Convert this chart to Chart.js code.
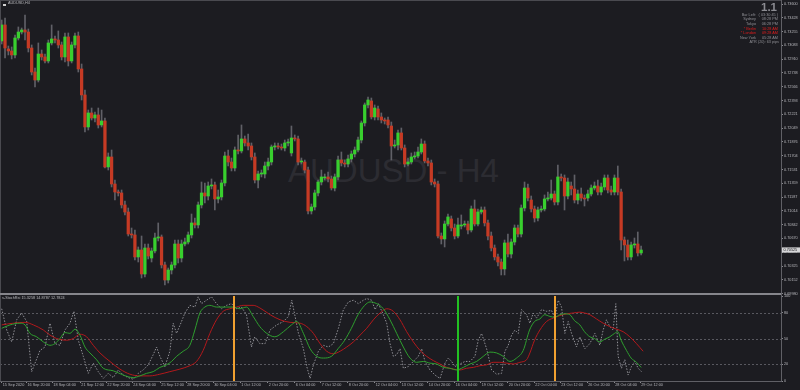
<!DOCTYPE html>
<html><head><meta charset="utf-8"><title>AUDUSD,H4</title>
<script src="https://cdn.jsdelivr.net/npm/chart.js@4.4.1/dist/chart.umd.min.js"></script>
<style>
html,body{margin:0;padding:0;background:#1c1c21;}
#wrap{position:relative;width:800px;height:390px;overflow:hidden;background:#1c1c21;}
canvas{position:absolute;left:0;display:block;}
.t{position:absolute;font-family:'Liberation Sans',Arial,sans-serif;white-space:nowrap;line-height:1;}
.s{font-size:3.8px;}
.lab{right:44px;color:#8e8e94;}
.val{right:22px;color:#8e8e94;}
.red{color:#e21d1d;}
.ln{position:absolute;}
</style></head>
<body><div id="wrap">
<div class="t" style="left:288px;top:154px;font-size:33px;color:#2c2c32;">AUDUSD - H4</div>
<canvas id="main" width="800" height="297" style="top:0;width:800px;height:297px"></canvas>
<canvas id="ind" width="800" height="96" style="top:294px;width:800px;height:96px"></canvas>
<div class="ln" style="left:0;top:0;width:781px;height:1px;background:#4a4a50"></div>
<div class="ln" style="left:0;top:0;width:1px;height:381px;background:#4a4a50"></div>
<div class="ln" style="left:0;top:293px;width:781px;height:2px;background:#86868c"></div>
<div class="ln" style="left:3px;top:3.5px;width:3px;height:2px;background:#d0d0d0"></div>
<div class="t s" style="left:8px;top:2.4px;color:#b8b8bc">AUDUSD,H4</div>
<div class="t" style="right:23px;top:1.8px;font-size:11.5px;font-weight:bold;color:#8c8c92">1.1</div>
<div class="t s lab" style="top:13.8px">Bar Left:</div><div class="t s val" style="top:13.8px">( 03:30:45 )</div>
<div class="t s lab" style="top:18.4px">Sydney</div><div class="t s val" style="top:18.4px">08:28 PM</div>
<div class="t s lab" style="top:23.1px">Tokyo</div><div class="t s val" style="top:23.1px">06:28 PM</div>
<div class="t s lab red" style="top:27.8px">* Berlin</div><div class="t s val red" style="top:27.8px">10:28 AM</div>
<div class="t s lab red" style="top:32.4px">* London</div><div class="t s val red" style="top:32.4px">09:28 AM</div>
<div class="t s lab" style="top:37.1px">New York</div><div class="t s val" style="top:37.1px">05:28 AM</div>
<div class="t s val" style="top:41.4px;right:21px">ATR (20): 63 pips</div>
<div class="t s" style="left:2px;top:297.2px;color:#b8b8bc">s-StochRsi 15.3258 14.8787 12.7824</div>
</div>
<script>
// ---------- price data (AUDUSD H4) ----------
const openP = [0.73138,0.73338,0.73038,0.73013,0.72963,0.73175,0.73250,0.73275,0.73250,0.73050,
0.72750,0.72650,0.72975,0.72938,0.72888,0.73113,0.73163,0.73150,0.73088,0.72938,
0.73188,0.72888,0.73088,0.73200,0.72788,0.72463,0.72063,0.72238,0.72175,0.72213,
0.72088,0.72138,0.71563,0.71688,0.71350,0.71250,0.71238,0.71088,0.71000,0.70725,
0.70713,0.70438,0.70525,0.70225,0.70550,0.70425,0.70513,0.70675,0.70688,0.70338,
0.70150,0.70275,0.70338,0.70600,0.70425,0.70600,0.70625,0.70713,0.70863,0.70838,
0.71088,0.71238,0.71200,0.71325,0.71338,0.71163,0.71188,0.71363,0.71700,0.71625,
0.71550,0.71775,0.71763,0.71913,0.71863,0.71825,0.71688,0.71400,0.71475,0.71475,
0.71575,0.71625,0.71813,0.71825,0.71813,0.71800,0.71863,0.71738,0.71925,0.71913,
0.71625,0.71625,0.71525,0.71013,0.71063,0.71238,0.71375,0.71425,0.71438,0.71413,
0.71300,0.71438,0.71650,0.71613,0.71600,0.71663,0.71725,0.71775,0.71900,0.72113,
0.72338,0.72388,0.72188,0.72288,0.72188,0.72150,0.72150,0.72075,0.71825,0.71838,
0.71988,0.71800,0.71600,0.71625,0.71688,0.71700,0.71750,0.71850,0.71638,0.71613,
0.71375,0.71350,0.70700,0.70663,0.70850,0.70913,0.70800,0.70700,0.70825,0.70838,
0.70850,0.70775,0.71038,0.70850,0.71000,0.71025,0.70863,0.70700,0.70550,0.70438,
0.70375,0.70288,0.70613,0.70475,0.70625,0.70800,0.70725,0.71050,0.71300,0.71150,
0.71038,0.70925,0.71025,0.71038,0.71163,0.71175,0.71225,0.71125,0.71438,0.71425,
0.71200,0.71325,0.71288,0.71150,0.71225,0.71175,0.71175,0.71225,0.71300,0.71325,
0.71250,0.71313,0.71425,0.71275,0.71250,0.71425,0.71250,0.70650,0.70588,0.70438,
0.70588,0.70600,0.70488];
const highP = [0.73400,0.73425,0.73075,0.73063,0.73213,0.73313,0.73300,0.73463,0.73288,0.73088,
0.72800,0.73113,0.73025,0.72975,0.73150,0.73338,0.73200,0.73263,0.73125,0.73238,
0.73238,0.73125,0.73238,0.73250,0.72850,0.72525,0.72275,0.72300,0.72250,0.72300,
0.72275,0.72175,0.71738,0.71775,0.71400,0.71275,0.71275,0.71138,0.71050,0.70800,
0.70775,0.70563,0.70700,0.70600,0.70600,0.70550,0.70738,0.70863,0.70713,0.70375,
0.70300,0.70375,0.70650,0.70650,0.70650,0.70675,0.70750,0.70975,0.70925,0.71125,
0.71375,0.71363,0.71375,0.71413,0.71375,0.71275,0.71400,0.71750,0.71775,0.71675,
0.71813,0.71963,0.72088,0.71950,0.71975,0.71863,0.71738,0.71513,0.71525,0.71625,
0.71675,0.71838,0.71863,0.71863,0.71850,0.71900,0.71913,0.72075,0.71963,0.71950,
0.71675,0.71650,0.71563,0.71100,0.71275,0.71400,0.71525,0.71475,0.71500,0.71450,
0.71475,0.71700,0.71750,0.71650,0.71713,0.71763,0.71813,0.71938,0.72138,0.72363,
0.72438,0.72425,0.72338,0.72325,0.72238,0.72175,0.72188,0.72125,0.71900,0.72025,
0.72050,0.71838,0.71675,0.71738,0.71750,0.71813,0.71913,0.71888,0.71675,0.71650,
0.71413,0.71388,0.70738,0.70888,0.70975,0.70950,0.70850,0.70925,0.70963,0.70888,
0.70888,0.71075,0.71150,0.71038,0.71063,0.71063,0.70900,0.70750,0.70588,0.70475,
0.70413,0.70650,0.70725,0.70663,0.70838,0.70838,0.71088,0.71375,0.71350,0.71200,
0.71075,0.71063,0.71075,0.71213,0.71250,0.71400,0.71263,0.71588,0.71475,0.71463,
0.71425,0.71375,0.71463,0.71275,0.71300,0.71213,0.71275,0.71338,0.71375,0.71400,
0.71363,0.71463,0.71463,0.71325,0.71463,0.71575,0.71288,0.70688,0.70650,0.70625,
0.70675,0.70750,0.70575];
const lowP = [0.73100,0.72925,0.72963,0.72913,0.72925,0.73150,0.73225,0.73150,0.73000,0.72713,
0.72563,0.72625,0.72900,0.72863,0.72863,0.73088,0.73113,0.73050,0.72900,0.72875,
0.72825,0.72863,0.73050,0.72750,0.72400,0.72000,0.72025,0.72150,0.72125,0.72050,
0.72063,0.71550,0.71525,0.71313,0.71150,0.71200,0.71050,0.70963,0.70700,0.70675,
0.70400,0.70375,0.70175,0.70188,0.70413,0.70375,0.70488,0.70638,0.70300,0.70088,
0.70113,0.70225,0.70300,0.70363,0.70375,0.70575,0.70600,0.70675,0.70800,0.70800,
0.71050,0.71113,0.71150,0.71288,0.71025,0.71113,0.71150,0.71325,0.71575,0.71513,
0.71513,0.71725,0.71738,0.71825,0.71775,0.71650,0.71363,0.71300,0.71438,0.71425,
0.71525,0.71588,0.71775,0.71788,0.71775,0.71763,0.71825,0.71700,0.71888,0.71588,
0.71600,0.71488,0.70975,0.70975,0.71025,0.71200,0.71338,0.71400,0.71375,0.71275,
0.71263,0.71400,0.71575,0.71563,0.71563,0.71625,0.71688,0.71750,0.71863,0.72075,
0.72300,0.72163,0.72150,0.72150,0.72113,0.72100,0.72050,0.71650,0.71800,0.71775,
0.71775,0.71563,0.71575,0.71600,0.71663,0.71675,0.71725,0.71613,0.71575,0.71338,
0.71313,0.70675,0.70600,0.70563,0.70825,0.70763,0.70663,0.70675,0.70788,0.70813,
0.70725,0.70750,0.70825,0.70825,0.70975,0.70825,0.70650,0.70513,0.70400,0.70325,
0.70213,0.70213,0.70438,0.70425,0.70588,0.70688,0.70688,0.71013,0.71138,0.71000,
0.70875,0.70888,0.71000,0.71013,0.71138,0.71150,0.71088,0.71088,0.71388,0.71025,
0.71163,0.71213,0.71113,0.71100,0.71138,0.71075,0.71138,0.71200,0.71275,0.71213,
0.71213,0.71275,0.71238,0.71213,0.71213,0.71213,0.70525,0.70388,0.70400,0.70400,
0.70550,0.70450,0.70463];
const closeP = [0.73338,0.73050,0.73013,0.72963,0.73175,0.73250,0.73275,0.73250,0.73050,0.72750,
0.72650,0.72975,0.72938,0.72888,0.73113,0.73163,0.73150,0.73088,0.72938,0.73188,
0.72888,0.73088,0.73200,0.72788,0.72463,0.72063,0.72238,0.72175,0.72213,0.72088,
0.72138,0.71563,0.71688,0.71350,0.71250,0.71238,0.71088,0.71000,0.70725,0.70713,
0.70438,0.70525,0.70225,0.70550,0.70450,0.70513,0.70675,0.70688,0.70338,0.70150,
0.70275,0.70338,0.70600,0.70425,0.70600,0.70625,0.70713,0.70863,0.70838,0.71088,
0.71238,0.71200,0.71325,0.71338,0.71163,0.71188,0.71363,0.71700,0.71625,0.71550,
0.71775,0.71763,0.71913,0.71863,0.71825,0.71688,0.71400,0.71475,0.71488,0.71575,
0.71625,0.71813,0.71825,0.71813,0.71800,0.71863,0.71875,0.71925,0.71913,0.71625,
0.71638,0.71525,0.71013,0.71063,0.71238,0.71375,0.71438,0.71438,0.71413,0.71300,
0.71438,0.71650,0.71613,0.71600,0.71663,0.71725,0.71775,0.71900,0.72113,0.72338,
0.72400,0.72188,0.72300,0.72188,0.72150,0.72138,0.72088,0.71825,0.71838,0.71988,
0.71800,0.71600,0.71625,0.71688,0.71700,0.71750,0.71850,0.71638,0.71613,0.71375,
0.71350,0.70700,0.70663,0.70850,0.70938,0.70800,0.70700,0.70838,0.70838,0.70850,
0.70775,0.71038,0.70850,0.71000,0.71025,0.70863,0.70700,0.70550,0.70438,0.70375,
0.70288,0.70613,0.70475,0.70625,0.70800,0.70725,0.71050,0.71300,0.71175,0.71038,
0.70925,0.71025,0.71038,0.71163,0.71175,0.71225,0.71125,0.71438,0.71425,0.71200,
0.71375,0.71288,0.71150,0.71225,0.71175,0.71163,0.71225,0.71300,0.71325,0.71250,
0.71313,0.71425,0.71275,0.71250,0.71425,0.71250,0.70650,0.70588,0.70438,0.70588,
0.70600,0.70488,0.70525];

// price axis tick values
const priceTicks = [0.73600,0.73428,0.73255,0.73083,0.72910,0.72738,0.72566,0.72393,0.72221,0.72049,0.71876,
0.71704,0.71531,0.71359,0.71187,0.71014,0.70842,0.70670,0.70497,0.70325,0.70152,0.69980];

// time axis labels and their bar positions
const timeLabels = ['15 Sep 2020','16 Sep 20:00','18 Sep 04:00','21 Sep 12:00','22 Sep 20:00','24 Sep 04:00',
'25 Sep 12:00','28 Sep 20:00','30 Sep 04:00','1 Oct 12:00','2 Oct 20:00','6 Oct 04:00','7 Oct 12:00',
'8 Oct 20:00','12 Oct 04:00','13 Oct 12:00','14 Oct 20:00','16 Oct 04:00','19 Oct 12:00','20 Oct 20:00',
'22 Oct 04:00','23 Oct 12:00','26 Oct 20:00','28 Oct 04:00','29 Oct 12:00'];
const timeTickBars = [0,7.4,15.2,23.6,31.4,39.2,47.6,55.4,63.5,71.6,79.9,88.0,95.8,103.9,112.0,119.8,
127.9,136.0,143.8,151.9,159.9,167.7,175.8,183.9,191.7];

// indicator (stochastic RSI) series: bar positions and values
const greenX = [0,2.5,5.5,7,8.5,10.5,12.5,14.5,16,17.5,19,20.5,22,23.5,25,26.5,28.5,30.5,33.5,36.5,
39.5,41.5,43.5,45.5,47.5,49.5,51,52.5,54.5,56.5,58,59.5,61,62.5,64.5,67.5,69.5,71.5,73.5,75.5,
77.5,79.6,82,84.6,87,88.6,90.6,92.6,94.6,96.6,99,101,103,105,107,109,110.6,112.6,114.6,116.6,
118.6,120.6,122.6,124.6,126.6,128.6,130.6,132.6,134.6,136.6,138.6,140.6,142.6,144.6,146.6,148.6,150.6,152.6,154.6,156.6,
158.5,160,161.6,163,164.6,166,167.6,169,170.6,172,173.6,175,176.6,178,179.6,181,182.6,184,185,186,
187.6,189,190.6,192];
const greenV = [62,66,68,66,56,52,46,42,44,50,57,56,61,54,40,33,25,15,12,7,
4,6,9,11,16,19,23,29,35,42,60,80,87,89,87,87,87,85,87,76,
64,56,52,58,66,70,56,38,29,27,29,38,48,62,78,89,93,91,85,72,
56,40,27,22,23,21,20,16,15,13,16,20,23,29,34,33,29,23,27,36,
60,70,73,78,76,75,78,79,78,71,66,58,52,50,46,49,52,56,58,48,
36,27,22,16];
const redX = [0,3.5,7,9.5,12.5,14.5,16.5,19.5,21.5,23.5,25.5,27.5,29.5,32.5,35.5,38.5,41.5,44.5,47.5,50.5,
53.5,56.5,58.5,60.5,62.5,64.5,66.5,68.5,70.5,72.5,75.5,77.5,80.6,83.6,86.6,89.6,91.6,93.6,95.6,97.6,
99.6,101.6,103.6,105.6,107.6,109.6,111.6,113.6,115.6,117.6,119.6,121.6,123.6,125.6,127.6,129.6,131.6,133.6,135.6,137.6,
139.6,141.6,143.6,145.6,147.6,149.6,151.6,153.6,155.6,157.6,158.6,160,161.6,163.6,165.6,167.6,169.6,171.6,173.6,175,
176.6,178.6,180.6,182.6,184.6,186.6,188.6,190.6,192.6];
const redV = [66,68,69,66,60,54,50,48,50,55,52,42,33,23,14,8,6,6,8,11,
14,18,23,36,56,72,82,85,87,89,89,86,78,72,69,68,64,56,44,35,
32,35,40,46,54,62,72,80,85,82,72,58,46,36,29,24,20,16,14,13,
15,16,18,19,22,22,21,20,22,25,33,48,60,70,74,77,79,80,81,80,
78,73,68,64,61,58,52,44,35];
const grayX = [0,1.5,3,4.5,6,7.5,9,10,11.5,13,14.5,16,17.5,19,20.5,21.7,23,24.5,26,27.5,
29,30.5,32,33.5,35,36.5,38,39.5,41,42.5,44,45.5,46.5,47.5,49,50.5,51.5,52.5,54,55,
56.5,58,59,60,61.5,63,64.5,66,67.5,69,70.5,72,73.5,75,76,77.5,79.1,80.6,82.6,84.6,
86.1,87.1,88.1,89.1,90.6,91.6,92.6,93.6,95.1,96.6,98.1,99.6,101.1,102.6,104.1,105.6,107.1,108.6,109.6,111.1,
112.1,113.1,114.6,115.6,116.6,117.6,118.6,119.6,120.6,122.1,123.6,125.1,126.1,127.1,128.6,130.1,131.6,133.1,134.1,135.1,
136.1,137.6,139.1,140.6,142.1,143.1,144.1,145.6,147.1,148.6,150.1,151.1,152.1,153.1,154.1,155.1,156.1,157.6,158.6,159.6,
160.6,162.1,163.6,165.1,166.1,167.1,168.1,169.1,170.1,171.1,172.6,173.6,175.1,176.6,178.1,179.6,180.6,181.6,182.6,183.6,
184.4,185.1,186.1,187.1,188.1,189.1,190.1,191.1,192.1];
const grayV = [85,60,46,72,80,70,11,21,36,40,68,44,42,60,68,82,48,29,9,21,
11,3,9,4,13,7,4,2,9,13,19,31,40,29,17,35,68,56,70,80,
89,87,99,91,95,99,91,85,89,91,85,87,78,40,52,44,44,60,66,70,
76,95,76,56,38,17,3,19,35,42,40,44,62,84,93,95,91,95,97,95,
84,91,78,68,44,29,31,38,15,17,23,29,38,23,13,7,3,21,27,23,
17,20,23,23,29,48,56,38,13,8,9,35,42,54,60,56,84,78,68,80,
74,84,82,83,74,95,87,56,70,56,40,52,38,44,56,42,60,72,64,60,
91,29,15,25,7,17,23,15,11];
const levelTicks = [0,20,50,80,100];
const dottedLevels = [20,50,80];
const markerBars = [69.9,137.0,166.1];
const markerColors = ['#f0a030','#22c022','#f0a030'];

// ---------- chart setup ----------
Chart.defaults.font.family = "'Liberation Sans', Arial, sans-serif";
const GREEN = '#38cf2e', RED = '#c53a24', WICK = '#606067';
const AXIS_TXT = '#b5b5ba', TICK_CLR = '#8a8a90', BORDER_CLR = '#606066';
const X_MIN = -0.51, X_MAX = 234.0;
const tinyFont = {size: 3.8};
function fixW(s){ s.width = 19; s.paddingTop = 0; s.paddingBottom = 0; }

const priceBox = {
  id: 'priceBox',
  afterDraw(chart){
    const last = closeP[closeP.length - 1];
    const y = chart.scales.y.getPixelForValue(last);
    const x0 = chart.chartArea.right + 1;
    const ctx = chart.ctx;
    ctx.save();
    ctx.fillStyle = '#d6d6d8';
    ctx.fillRect(x0, y - 2.6, 18, 5.2);
    ctx.fillStyle = '#16161a';
    ctx.font = "3.8px 'Liberation Sans'";
    ctx.textBaseline = 'middle';
    ctx.fillText(last.toFixed(5), x0 + 1.5, y + 0.2);
    ctx.restore();
  }
};

new Chart(document.getElementById('main'), {
  type: 'bar',
  data: { datasets: [
    { label: 'body', data: openP.map((o, i) => ({x: i, y: [o, closeP[i]]})),
      backgroundColor: openP.map((o, i) => closeP[i] >= o ? GREEN : RED),
      barThickness: 2.6, minBarLength: 1, grouped: false, order: 0, borderWidth: 0 },
    { label: 'wick', data: lowP.map((l, i) => ({x: i, y: [l, highP[i]]})),
      backgroundColor: WICK, barThickness: 1, grouped: false, order: 1, borderWidth: 0 }
  ]},
  options: {
    responsive: false, animation: false, devicePixelRatio: 1, events: [],
    layout: {padding: {left: 0, right: 0, top: 0, bottom: 2}},
    plugins: {legend: {display: false}, tooltip: {enabled: false}},
    scales: {
      x: {type: 'linear', min: X_MIN, max: X_MAX, display: false, offset: false},
      y: {type: 'linear', position: 'right', min: 0.699625, max: 0.7365,
        afterFit: fixW,
        afterBuildTicks(s){ s.ticks = priceTicks.map(v => ({value: v})); },
        ticks: {autoSkip: false, padding: 1, color: AXIS_TXT, font: tinyFont,
          callback: (v, i) => priceTicks[i].toFixed(5)},
        grid: {display: true, drawOnChartArea: false, drawTicks: true, tickLength: 2, color: TICK_CLR},
        border: {display: true, color: BORDER_CLR}
      }
    }
  },
  plugins: [priceBox]
});

const indDecor = {
  id: 'indDecor',
  beforeDatasetsDraw(chart){
    const {ctx, chartArea: a, scales: {y}} = chart;
    ctx.save();
    ctx.strokeStyle = '#58585f'; ctx.lineWidth = 1; ctx.setLineDash([2, 2]);
    dottedLevels.forEach(v => {
      const py = Math.round(y.getPixelForValue(v)) + 0.5;
      ctx.beginPath(); ctx.moveTo(a.left, py); ctx.lineTo(a.right, py); ctx.stroke();
    });
    ctx.restore();
  },
  afterDatasetsDraw(chart){
    const {ctx, chartArea: a, scales: {x}} = chart;
    ctx.save();
    ctx.lineWidth = 2;
    markerBars.forEach((b, k) => {
      const px = Math.round(x.getPixelForValue(b));
      ctx.strokeStyle = markerColors[k];
      ctx.beginPath(); ctx.moveTo(px, a.top); ctx.lineTo(px, a.bottom); ctx.stroke();
    });
    ctx.restore();
  }
};

const toPts = (xs, vs) => xs.map((x, i) => ({x, y: vs[i]}));
new Chart(document.getElementById('ind'), {
  type: 'line',
  data: { datasets: [
    { label: 'main', data: toPts(greenX, greenV), borderColor: '#2f9f2f', borderWidth: 1,
      pointRadius: 0, cubicInterpolationMode: 'monotone' },
    { label: 'signal', data: toPts(redX, redV), borderColor: '#b3191c', borderWidth: 1,
      pointRadius: 0, cubicInterpolationMode: 'monotone' },
    { label: 'stoch', data: toPts(grayX, grayV), borderColor: '#909096', borderWidth: 1,
      borderDash: [1.5, 1.5], pointRadius: 0, tension: 0 }
  ]},
  options: {
    responsive: false, animation: false, devicePixelRatio: 1, events: [],
    layout: {padding: {left: 0, right: 0, top: 2, bottom: 0}},
    plugins: {legend: {display: false}, tooltip: {enabled: false}},
    scales: {
      x: {type: 'linear', min: X_MIN, max: X_MAX, offset: false,
        afterFit(s){ s.height = 9; s.paddingLeft = 0; s.paddingRight = 0; },
        afterBuildTicks(s){ s.ticks = timeTickBars.map(v => ({value: v})); },
        ticks: {autoSkip: false, maxRotation: 0, minRotation: 0, align: 'start', padding: 0,
          color: AXIS_TXT, font: tinyFont, callback: (v, i) => ' ' + timeLabels[i]},
        grid: {display: true, drawOnChartArea: false, drawTicks: true, tickLength: 2, color: TICK_CLR},
        border: {display: true, color: BORDER_CLR}
      },
      y: {type: 'linear', position: 'right', min: 0, max: 100,
        afterFit: fixW,
        afterBuildTicks(s){ s.ticks = levelTicks.map(v => ({value: v})); },
        ticks: {autoSkip: false, padding: 1, color: AXIS_TXT, font: tinyFont,
          callback: (v, i) => String(levelTicks[i])},
        grid: {display: true, drawOnChartArea: false, drawTicks: true, tickLength: 2, color: TICK_CLR},
        border: {display: true, color: BORDER_CLR}
      }
    }
  },
  plugins: [indDecor]
});
</script>
</body></html>
